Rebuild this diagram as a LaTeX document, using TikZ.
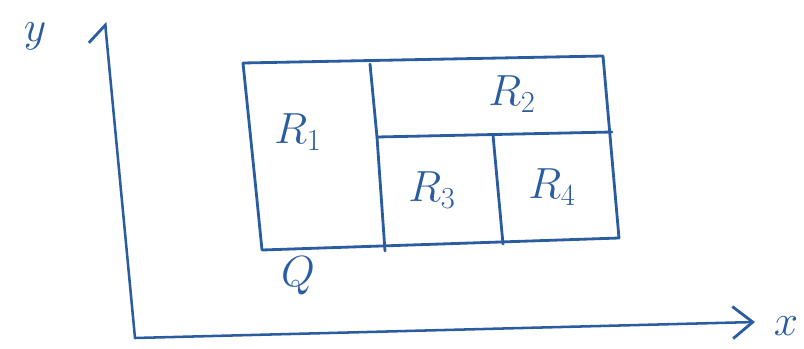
\RequirePackage{fix-cm}
\documentclass[tikz,border=0pt]{standalone}
\usetikzlibrary{arrows.meta}
\definecolor{pen}{RGB}{42,92,160}
\tikzset{
  trazo/.style={pen, line width=2pt, line cap=round, line join=round},
  eje/.style={pen, line width=1.8pt, line cap=round},
  etiqueta/.style={pen, font=\fontsize{31}{36}\selectfont}
}
\begin{document}
\begin{tikzpicture}[x=0.025cm, y=-0.025cm]
        \useasboundingbox (0,0) rectangle (804,349);

        % Ejes
        \coordinate (O) at (135,338);
        \coordinate (ytop) at (105,22);
        \coordinate (xend) at (755,322);
        \draw[eje, -{Straight Barb[left, length=4mm, width=9mm, line width=2pt]}] (O) -- (ytop);
        \draw[eje, -{Straight Barb[length=5mm, width=8mm, line width=2pt]}] (O) -- (xend);
        \node[etiqueta] (ylbl) at (35,36) {$y$};
        \node[etiqueta] (xlbl) at (786,326) {$x$};

        % Rectangulo Q
        \coordinate (q1) at (243,63);
        \coordinate (q2) at (603,56);
        \coordinate (q3) at (619,238);
        \coordinate (q4) at (262,250);
        \draw[trazo] (q1) -- (q2) -- (q3) -- (q4) .. controls (255,180) .. (q1);

        % Particiones
        \coordinate (a1) at (370,64);
        \coordinate (a2) at (377,137);
        \coordinate (a3) at (385,251);
        \coordinate (b1) at (612,132);
        \coordinate (c1) at (493,135);
        \coordinate (c2) at (503,244);
        \draw[trazo] (a1) -- (a2) -- (a3);
        \draw[trazo] (a2) -- (b1);
        \draw[trazo] (c1) -- (c2);

        % Regiones
        \foreach \n/\x/\y/\val in {
            r1/298/132/$R_1$,
            r2/512/94/$R_2$,
            r3/432/190/$R_3$,
            r4/552/187/$R_4$,
            q/298/276/$Q$} {
            \node[etiqueta] (\n) at (\x,\y) {\val};
        }
    \end{tikzpicture}
\end{document}
